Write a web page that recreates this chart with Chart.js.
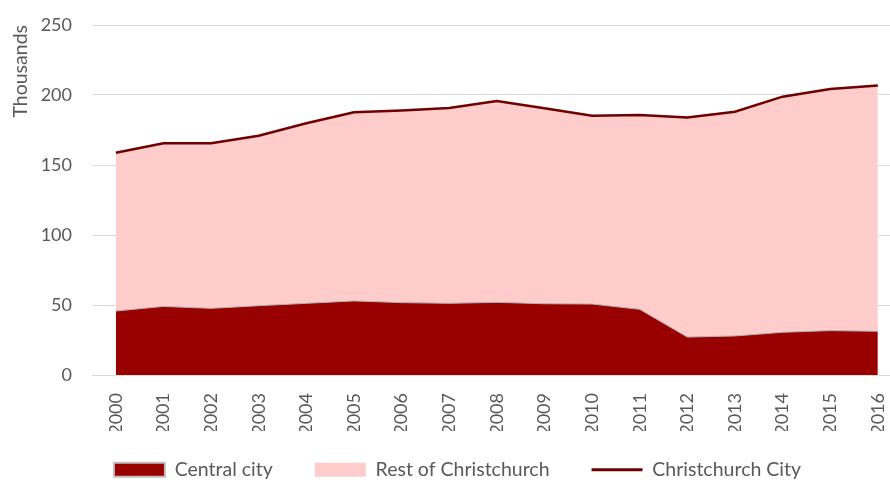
<!DOCTYPE html>
<html>
<head>
<meta charset="utf-8">
<script src="https://cdn.jsdelivr.net/npm/chart.js@4/dist/chart.umd.min.js"></script>
<style>
  html, body { margin: 0; padding: 0; background: #ffffff; }
  #wrap { width: 890px; height: 480px; position: relative; }
</style>
</head>
<body>
<div id="wrap"><canvas id="chart"></canvas></div>
<script>
// Employment in Christchurch, thousands
const years = [2000, 2001, 2002, 2003, 2004, 2005, 2006, 2007, 2008,
               2009, 2010, 2011, 2012, 2013, 2014, 2015, 2016];
const centralCity = [45.7, 49.0, 47.6, 49.5, 51.2, 52.9, 51.7, 51.2, 51.9,
                     50.9, 50.7, 46.9, 27.1, 27.9, 30.5, 31.7, 31.2];
const restOfChristchurch = [113.1, 116.5, 117.9, 121.4, 128.6, 134.7, 137.3, 139.5, 143.8,
                            139.6, 134.5, 138.8, 156.9, 160.1, 168.3, 172.6, 175.5];
const christchurchCity = [158.8, 165.5, 165.5, 170.9, 179.8, 187.6, 189.0, 190.7, 195.7,
                          190.5, 185.2, 185.7, 184.0, 188.0, 198.8, 204.3, 206.7];
const yTicks = [0, 50, 100, 150, 200, 250];

const TEXT = '#595959';
const FONT = 'Lato, "Open Sans", sans-serif';

// Nudge the legend up under the rotated year labels and slightly right
const legendNudge = {
  id: 'legendNudge',
  afterLayout(chart) {
    const lg = chart.legend;
    if (lg) {
      lg.top -= 13; lg.bottom -= 13;
      lg.left += 7; lg.right += 7;
    }
  }
};

new Chart(document.getElementById('chart'), {
  type: 'line',
  plugins: [legendNudge],
  data: {
    labels: years,
    datasets: [
      {
        label: 'Central city',
        data: centralCity,
        stack: 'parts',
        fill: 'origin',
        backgroundColor: '#990000',
        borderColor: '#b3b3b3',
        borderWidth: 1,
        pointRadius: 0,
        tension: 0
      },
      {
        label: 'Rest of Christchurch',
        data: restOfChristchurch,
        stack: 'parts',
        fill: '-1',
        backgroundColor: '#ffcccc',
        borderColor: 'rgba(0,0,0,0)',
        borderWidth: 0,
        pointRadius: 0,
        tension: 0
      },
      {
        label: 'Christchurch City',
        data: christchurchCity,
        stack: 'total',
        fill: false,
        borderColor: '#6e0000',
        borderWidth: 2.5,
        pointRadius: 0,
        tension: 0
      }
    ]
  },
  options: {
    responsive: true,
    maintainAspectRatio: false,
    animation: false,
    layout: { padding: { left: 11, right: 0, top: 25, bottom: -22.5 } },
    plugins: {
      filler: { drawTime: 'beforeDatasetsDraw' },
      tooltip: { enabled: false },
      legend: {
        position: 'bottom',
        labels: {
          color: TEXT,
          font: { family: FONT, size: 19.5 },
          usePointStyle: true,
          pointStyleWidth: 51,
          boxHeight: 14,
          padding: 42,
          generateLabels: chart => chart.data.datasets.map((ds, i) => {
            if (i === 0) {
              return { text: ds.label, datasetIndex: i, pointStyle: 'rect',
                       fillStyle: ds.backgroundColor, strokeStyle: '#bfbfbf', lineWidth: 2,
                       fontColor: TEXT, hidden: false };
            }
            if (i === 1) {
              return { text: ds.label, datasetIndex: i, pointStyle: 'rect',
                       fillStyle: ds.backgroundColor, strokeStyle: ds.backgroundColor, lineWidth: 0,
                       fontColor: TEXT, hidden: false };
            }
            return { text: ds.label, datasetIndex: i, pointStyle: 'line',
                     fillStyle: ds.borderColor, strokeStyle: ds.borderColor, lineWidth: 3,
                     fontColor: TEXT, hidden: false };
          })
        }
      }
    },
    scales: {
      x: {
        type: 'linear',
        min: years[0] - 0.5,
        // half a year before the first point; the right side runs on past the last point
        max: years[0] - 0.5 + 798 / 47.625,
        grid: { display: false },
        border: { display: false },
        ticks: {
          color: TEXT,
          font: { family: FONT, size: 18 },
          minRotation: 90,
          maxRotation: 90,
          autoSkip: false,
          padding: 10,
          includeBounds: false,
          callback: v => String(v)
        },
        afterBuildTicks: scale => { scale.ticks = years.map(v => ({ value: v })); },
        afterFit: scale => { scale.height = 56; scale.paddingLeft = 0; scale.paddingRight = 0; }
      },
      y: {
        stacked: true,
        min: 0,
        max: 250,
        grid: { color: '#d9d9d9', lineWidth: 1, drawTicks: false },
        border: { display: false },
        ticks: {
          color: TEXT,
          font: { family: FONT, size: 18 },
          padding: 20,
          stepSize: 50
        },
        afterBuildTicks: scale => { scale.ticks = yTicks.map(v => ({ value: v })); },
        afterFit: scale => { scale.width = 81; scale.paddingTop = 0; scale.paddingBottom = 0; },
        title: {
          display: true,
          text: 'Thousands',
          align: 'end',
          color: TEXT,
          font: { family: FONT, size: 19.5, lineHeight: 1 },
          padding: 0
        }
      }
    }
  }
});
</script>
</body>
</html>
